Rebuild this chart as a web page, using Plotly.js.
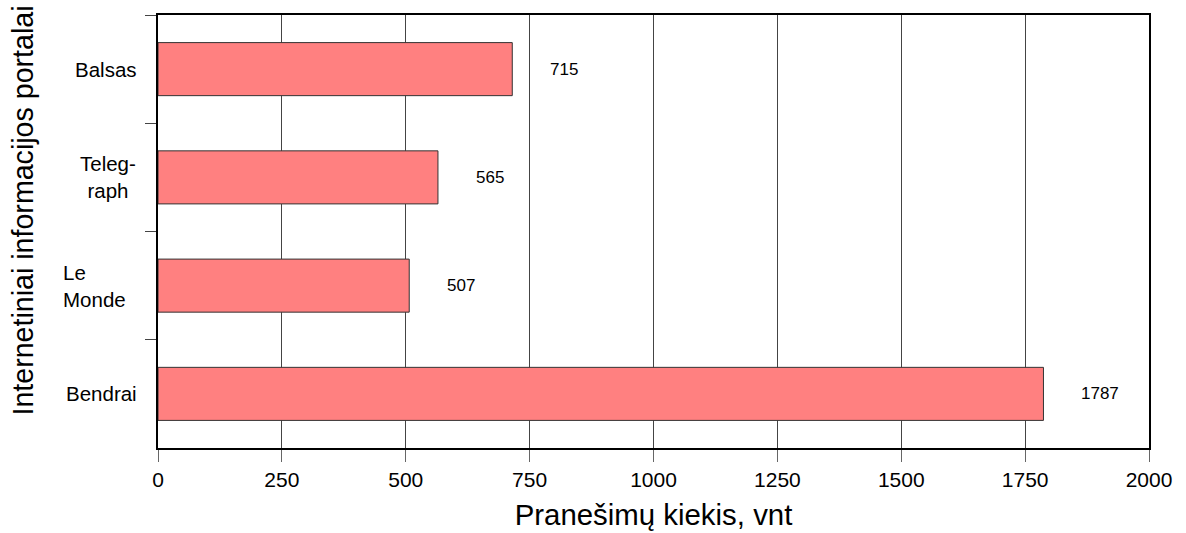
<!DOCTYPE html>
<html>
<head>
<meta charset="utf-8">
<script src="https://cdn.plot.ly/plotly-3.0.1.min.js"></script>
<style>html,body{margin:0;padding:0;background:#fff;}#chart{width:1186px;height:533px;}</style>
</head>
<body>
<div id="chart"></div>
<script>
const categories = ["Balsas", "Telegraph", "Le Monde", "Bendrai"];
const categoryLabels = ["Balsas", "Teleg-<br>raph", "Le<br>Monde", "Bendrai"];
const values = [715, 565, 507, 1787];
const xTicks = [0, 250, 500, 750, 1000, 1250, 1500, 1750, 2000];
const xTitle = "Pranešimų kiekis, vnt";
const yTitle = "Internetiniai informacijos portalai";

const FONT = "Liberation Sans, Arial, sans-serif";

const trace = {
  type: "bar",
  orientation: "h",
  x: values,
  y: categories,
  width: 0.49,
  marker: { color: "#FF8080", line: { color: "#333333", width: 1 } },
  hoverinfo: "skip"
};

// label alignment per category (as in the reference)
const labelAlign = [
  { x: -0.019, xanchor: "right", align: "right" },
  { x: -0.0505, xanchor: "center", align: "center" },
  { x: -0.098, xanchor: "left", align: "left" },
  { x: -0.019, xanchor: "right", align: "right" }
];

const annotations = [];
categories.forEach((c, i) => {
  annotations.push({
    x: values[i], y: c, xref: "x", yref: "y",
    text: String(values[i]), showarrow: false,
    xanchor: "left", xshift: 36,
    font: { family: FONT, size: 17, color: "#000" }
  });
  annotations.push({
    x: labelAlign[i].x, y: c, xref: "paper", yref: "y",
    text: categoryLabels[i], showarrow: false,
    xanchor: labelAlign[i].xanchor, align: labelAlign[i].align,
    font: { family: FONT, size: 20.5, color: "#000" }
  });
});
annotations.push({
  x: -0.136, y: 0.549, xref: "paper", yref: "paper",
  text: yTitle, showarrow: false, textangle: -90,
  xanchor: "center", yanchor: "middle",
  font: { family: FONT, size: 28.6, color: "#000" }
});

const layout = {
  width: 1186, height: 533,
  margin: { l: 158, r: 37, t: 15, b: 85 },
  paper_bgcolor: "#fff", plot_bgcolor: "#fff",
  showlegend: false,
  font: { family: FONT, color: "#000" },
  xaxis: {
    range: [0, 2000],
    tickvals: xTicks,
    ticktext: xTicks.map(String),
    ticks: "outside", ticklen: 12, tickcolor: "#666", tickwidth: 1,
    showline: true, linecolor: "#000", linewidth: 2, mirror: true,
    showgrid: true, gridcolor: "#444", gridwidth: 1,
    zeroline: false,
    tickfont: { family: FONT, size: 21, color: "#000" },
    title: { text: xTitle, font: { family: FONT, size: 29.4, color: "#000" }, standoff: 14 }
  },
  yaxis: {
    type: "category",
    categoryorder: "array",
    categoryarray: categories,
    autorange: "reversed",
    showticklabels: false,
    tickson: "boundaries",
    ticks: "outside", ticklen: 11, tickcolor: "#444", tickwidth: 1,
    showline: true, linecolor: "#000", linewidth: 2, mirror: true,
    showgrid: false, zeroline: false
  },
  annotations: annotations
};

Plotly.newPlot("chart", [trace], layout, { displayModeBar: false, staticPlot: true });
</script>
</body>
</html>
